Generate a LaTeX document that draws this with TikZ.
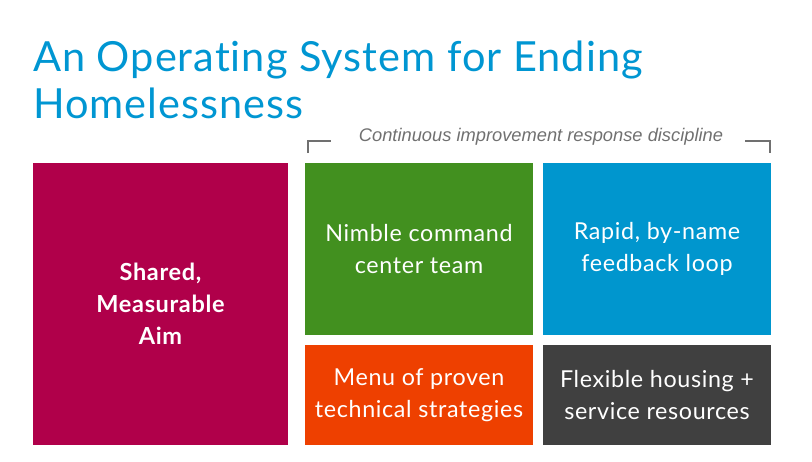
\documentclass[tikz,border=0pt]{standalone}
\usepackage{fontspec}
\setmainfont{Lato}[Ligatures=NoCommon]
\newfontfamily\titlefont{Lato}[Ligatures=NoCommon,LetterSpace=2.4]
\newfontfamily\tilefont{Lato}[Ligatures=NoCommon,LetterSpace=2.8]
\newfontfamily\capfont{Liberation Sans}
\definecolor{titleblue}{HTML}{0096D2}
\definecolor{aimred}{HTML}{B0004A}
\definecolor{teamgreen}{HTML}{42901F}
\definecolor{loopblue}{HTML}{0096CE}
\definecolor{menuorange}{HTML}{EE4000}
\definecolor{resgrey}{HTML}{404040}
\definecolor{bracketgrey}{HTML}{707070}

\tikzset{
  tile/.style={inner sep=0pt,outer sep=0pt,text=white,align=center,font=\tilefont\fontsize{23.3}{31.5}\selectfont},
  headline/.style={anchor=base west,inner sep=0pt,text=titleblue,font=\titlefont\fontsize{41.5}{46}\selectfont},
}

\begin{document}
\begin{tikzpicture}[x=1pt,y=-1pt]
\useasboundingbox (0,0) rectangle (812,461);
\node[headline] (title1) at (33,71) {An Operating System for Ending};
\node[headline] (title2) at (33,118) {Homelessness};
\node[inner sep=0pt,text=bracketgrey,font=\capfont\itshape\fontsize{18.3}{20}\selectfont] (cap) at (541,137) {Continuous improvement response discipline};
\draw[bracketgrey,line width=1.6pt] (308,153)--(308,141)--(331,141);
\draw[bracketgrey,line width=1.6pt] (745,141)--(770,141)--(770,153);
\node[tile,fill=aimred,minimum width=255pt,minimum height=282pt,font=\tilefont\bfseries\fontsize{23.5}{32}\selectfont] (aim) at (160.5,304) {Shared,\\Measurable\\Aim};
\node[tile,fill=teamgreen,minimum width=228pt,minimum height=172pt] (team) at (419,249) {Nimble command\\center team};
\node[tile,fill=loopblue,minimum width=228pt,minimum height=172pt] (loop) at (657,249) {Rapid, by-name\\feedback loop};
\node[tile,fill=menuorange,minimum width=228pt,minimum height=100pt] (menu) at (419,395) {Menu of proven\\technical strategies};
\node[tile,fill=resgrey,minimum width=228pt,minimum height=100pt] (res) at (657,395) {Flexible housing +\\service resources};
\end{tikzpicture}
\end{document}
